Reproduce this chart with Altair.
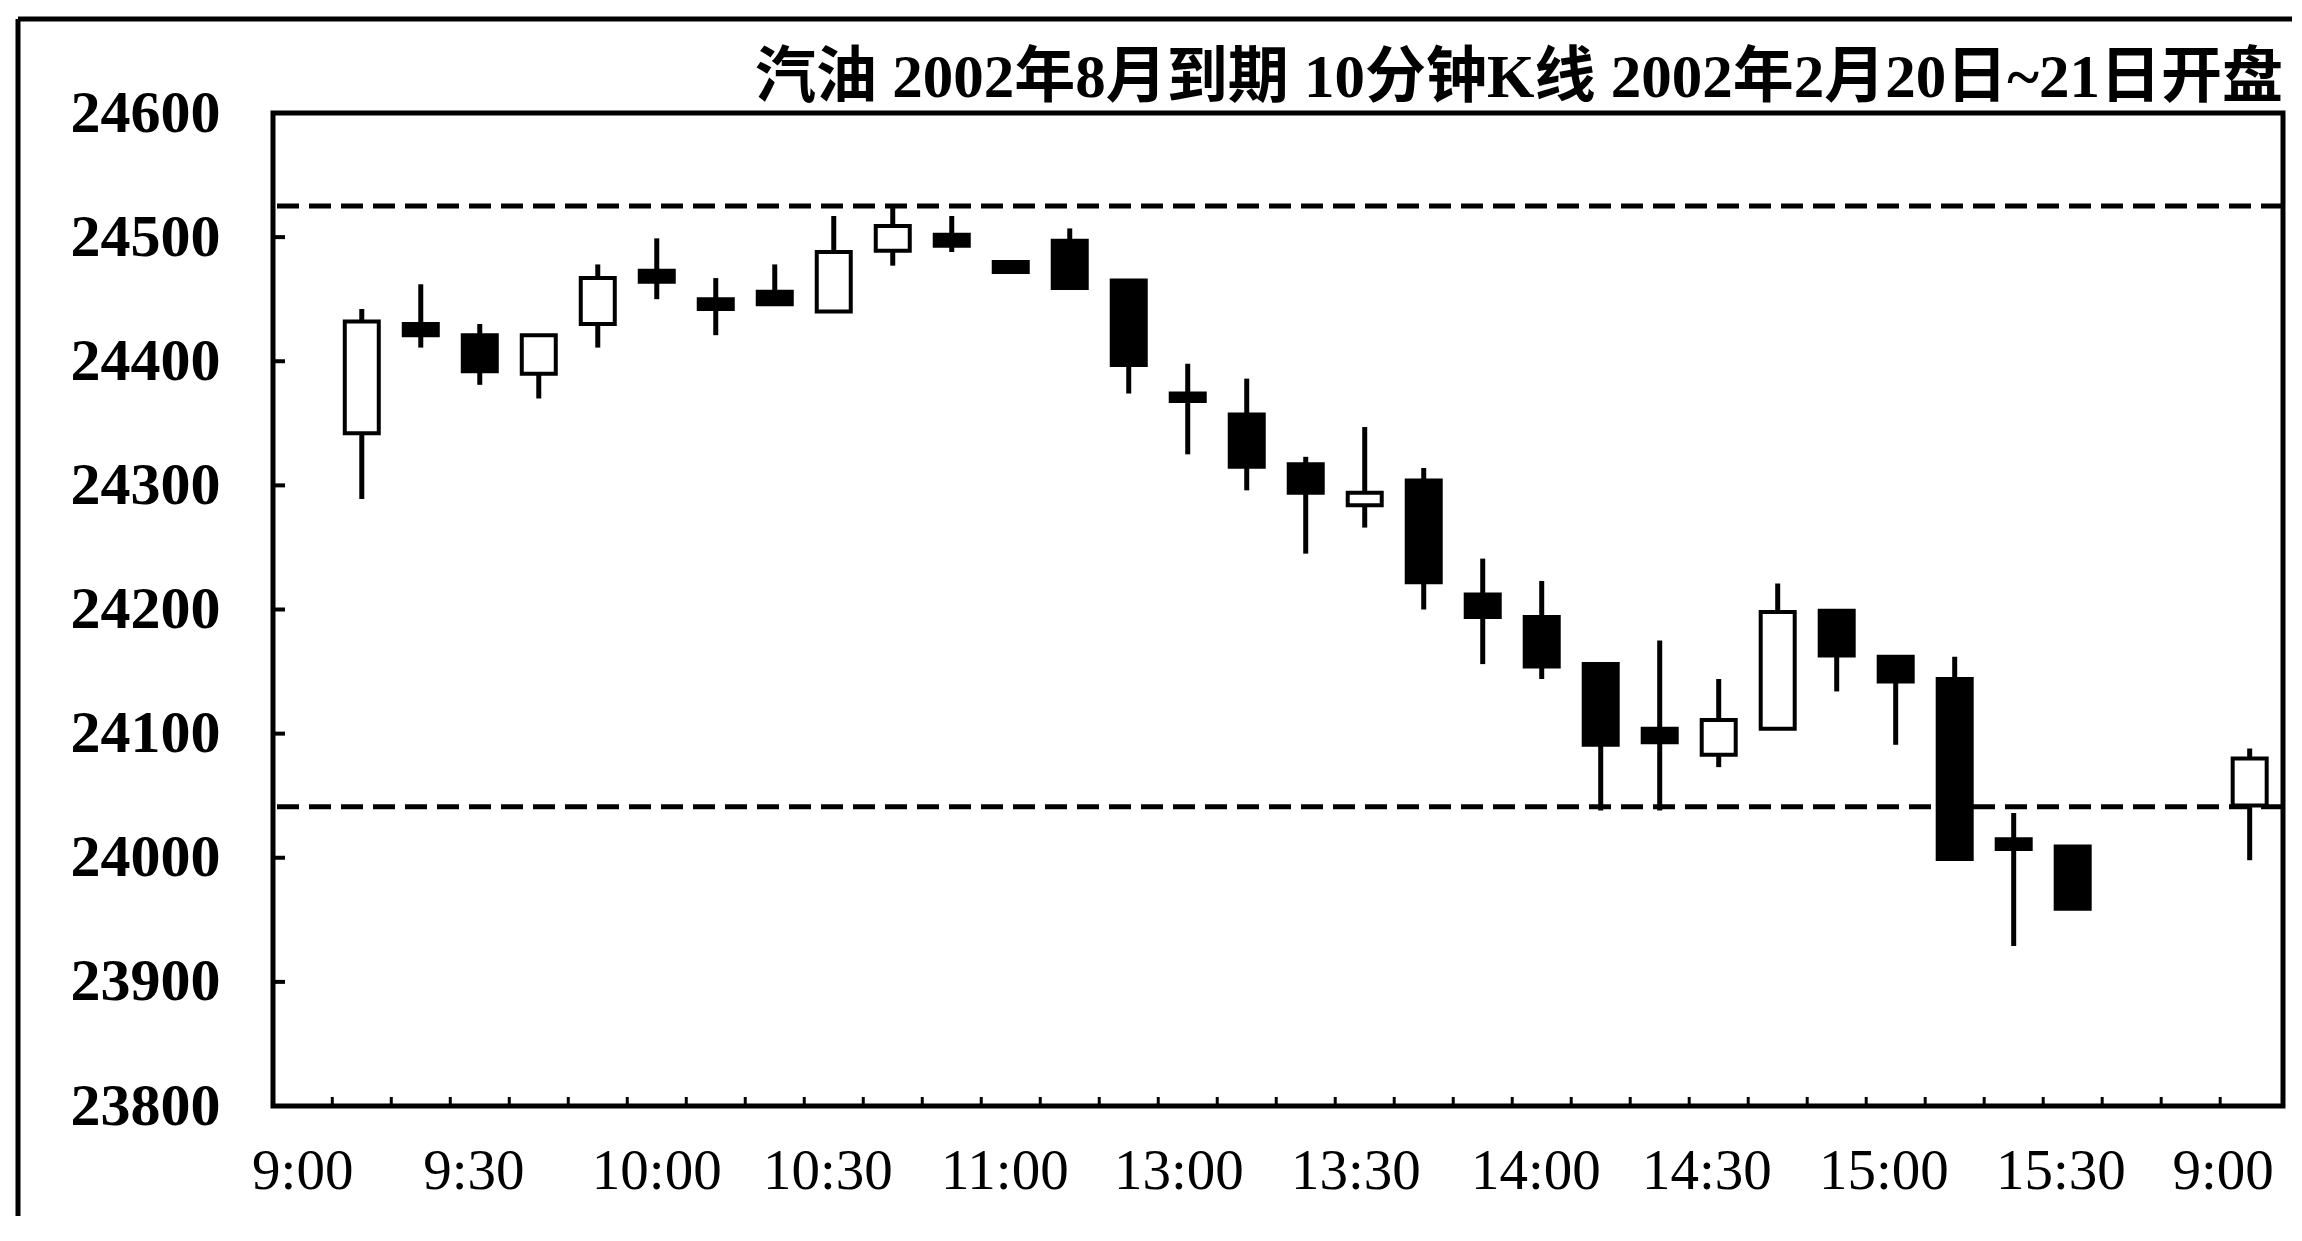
import altair as alt
import pandas as pd

# ---- data ----
slots = [0, 1, 2, 3, 4, 5, 6, 7, 8, 9, 10, 11, 12, 13, 14, 15, 16, 17, 18, 19,
         20, 21, 22, 23, 24, 25, 26, 27, 28, 29, 32]
opens = [24342, 24430, 24421, 24390, 24430, 24473, 24450, 24456, 24440, 24489,
         24502, 24480, 24497, 24465, 24374, 24357, 24317, 24284, 24304, 24212,
         24194, 24156, 24104, 24083, 24104, 24199, 24162, 24144, 24015, 24009, 24042]
highs = [24442, 24462, 24430, 24421, 24478, 24499, 24467, 24478, 24517, 24526,
         24517, 24480, 24507, 24465, 24398, 24386, 24323, 24347, 24314, 24241,
         24223, 24156, 24175, 24144, 24221, 24199, 24162, 24162, 24036, 24009, 24088]
lows = [24289, 24411, 24381, 24370, 24411, 24450, 24421, 24446, 24440, 24477,
        24488, 24472, 24459, 24374, 24325, 24296, 24245, 24266, 24200, 24156,
        24144, 24038, 24038, 24073, 24104, 24134, 24091, 23999, 23929, 23959, 23998]
closes = [24432, 24421, 24392, 24421, 24467, 24464, 24442, 24446, 24488, 24509,
          24493, 24472, 24459, 24397, 24368, 24315, 24294, 24294, 24222, 24194,
          24154, 24091, 24093, 24111, 24198, 24163, 24142, 23999, 24007, 23959, 24080]

levels = [24525, 24041]
y_tick_values = [23800, 23900, 24000, 24100, 24200, 24300, 24400, 24500, 24600]
y_inner_ticks = [23900, 24000, 24100, 24200, 24300, 24400, 24500]
x_tick_pos = [-0.5, 0.5, 1.5, 2.5, 3.5, 4.5, 5.5, 6.5, 7.5, 8.5, 9.5, 10.5, 11.5,
              12.5, 13.5, 14.5, 15.5, 16.5, 17.5, 18.5, 19.5, 20.5, 21.5, 22.5,
              23.5, 24.5, 25.5, 26.5, 27.5, 28.5, 29.5, 30.5, 31.5]
x_label_pos = [-1, 1.9, 5, 7.9, 10.9, 13.85, 16.85, 19.9, 22.8, 25.8, 28.8, 31.55]
x_labels = ["9:00", "9:30", "10:00", "10:30", "11:00", "13:00", "13:30",
            "14:00", "14:30", "15:00", "15:30", "9:00"]
title_text = ["汽油 2002年8月到期 10分钟K线 2002年2月20日~21日开盘"]

df = pd.DataFrame({"slot": slots, "open": opens, "high": highs,
                   "low": lows, "close": closes})
df["dir"] = ["up" if c >= o else "down" for o, c in zip(opens, closes)]

W, H = 2010, 993
xscale = alt.Scale(domain=[-1.42, 32.48], nice=False, zero=False)
yscale = alt.Scale(domain=[23800, 24600], nice=False, zero=False)
y_axis = alt.Axis(values=y_tick_values, title=None, grid=False, domain=False,
                  ticks=False, tickSize=0, format="d", labelFont="Liberation Serif",
                  labelFontWeight="bold", labelFontSize=60, labelColor="black",
                  labelPadding=53)

dashed = alt.Chart(pd.DataFrame({"lvl": levels})).mark_rule(
    strokeDash=[22, 10], strokeWidth=5, color="black"
).encode(y=alt.Y("lvl:Q", scale=yscale, axis=y_axis))

base = alt.Chart(df)
wick = base.mark_rule(strokeWidth=5, color="black").encode(
    x=alt.X("slot:Q", scale=xscale, axis=None),
    y=alt.Y("low:Q", scale=yscale, axis=y_axis),
    y2="high:Q",
)
body = base.mark_bar(size=34, stroke="black", strokeWidth=4).encode(
    x=alt.X("slot:Q", scale=xscale, axis=None),
    y=alt.Y("open:Q", scale=yscale, axis=y_axis),
    y2="close:Q",
    fill=alt.Fill("dir:N", scale=alt.Scale(domain=["up", "down"], range=["white", "black"]),
                  legend=None),
)

yticks = alt.Chart(pd.DataFrame({"v": y_inner_ticks})).mark_rule(
    strokeWidth=4, color="black"
).encode(y=alt.Y("v:Q", scale=yscale, axis=y_axis), x=alt.value(0), x2=alt.value(12))

xticks = alt.Chart(pd.DataFrame({"s": x_tick_pos})).mark_rule(
    strokeWidth=3, color="black"
).encode(x=alt.X("s:Q", scale=xscale, axis=None), y=alt.value(H), y2=alt.value(H - 9))

xlabels = alt.Chart(pd.DataFrame({"pos": x_label_pos, "label": x_labels})).mark_text(
    font="Liberation Serif", fontSize=57, baseline="alphabetic", align="center", color="black"
).encode(x=alt.X("pos:Q", scale=xscale, axis=None), y=alt.value(1076), text="label:N")

title = alt.Chart(pd.DataFrame({"t": title_text})).mark_text(
    font="Liberation Serif, 'Noto Sans CJK SC'", fontSize=61, fontWeight="bold",
    baseline="alphabetic", align="right", color="black"
).encode(x=alt.value(W), y=alt.value(-16), text="t:N")

one = alt.Chart(pd.DataFrame({"a": [0]}))
frame_top = one.mark_rule(strokeWidth=5, color="black").encode(
    x=alt.value(-255), x2=alt.value(W + 40), y=alt.value(-94))
frame_left = one.mark_rule(strokeWidth=5, color="black").encode(
    x=alt.value(-255), y=alt.value(-94), y2=alt.value(H + 200))

chart = alt.layer(
    frame_top, frame_left, dashed, wick, body, yticks, xticks, xlabels, title
).properties(
    width=W, height=H,
    padding={"left": 265, "top": 105, "right": 9, "bottom": 110},
    autosize=alt.AutoSizeParams(type="none"),
).configure_view(stroke="black", strokeWidth=5)

chart.save("out.html", embed_options={"renderer": "svg", "actions": False})
